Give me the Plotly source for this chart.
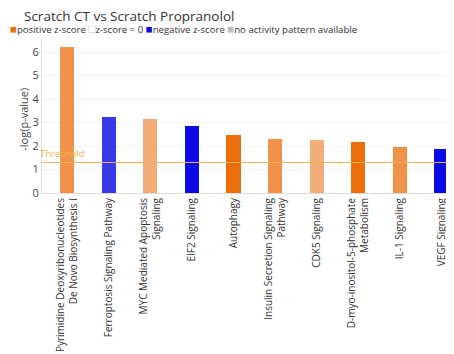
import plotly.graph_objects as go

# pathways and their -log(p-value)
pathways = [
    "Pyrimidine Deoxyribonucleotides<br>De Novo Biosynthesis I",
    "Ferroptosis Signaling Pathway",
    "MYC Mediated Apoptosis<br>Signaling",
    "EIF2 Signaling",
    "Autophagy",
    "Insulin Secretion Signaling<br>Pathway",
    "CDK5 Signaling",
    "D-myo-inositol-5-phosphate<br>Metabolism",
    "IL-1 Signaling",
    "VEGF Signaling",
]
neg_log_p = [6.22, 3.23, 3.17, 2.86, 2.48, 2.29, 2.26, 2.17, 1.94, 1.88]
# shade of the z-score for each bar
z_shade = ["pos_mid", "neg_light", "pos_light", "neg", "pos_dark",
           "pos_mid", "pos_light", "pos_dark", "pos_mid", "neg"]
threshold = 1.3

SHADES = {
    "pos_dark": "#EC6E0C",
    "pos_mid": "#F0924A",
    "pos_light": "#F3AD78",
    "neg": "#0A0AE6",
    "neg_light": "#3838E8",
}
FONT = "Open Sans, Arial, sans-serif"
TEXT = "#333333"

fig = go.Figure()
fig.add_trace(go.Bar(
    x=list(range(len(pathways))),
    y=neg_log_p,
    width=0.34,
    marker=dict(color=[SHADES[s] for s in z_shade], line=dict(width=0)),
    hovertemplate="%{y:.2f}<extra></extra>",
))

# threshold line
fig.add_shape(type="line", xref="paper", x0=0, x1=1, yref="y", y0=threshold, y1=threshold,
              line=dict(color="#E9B35C", width=1))

SQ = "font-size:11.5px"
legend_text = (f"<span style='color:#EC6E0C;{SQ}'>■</span>positive z-score "
               f"<span style='color:#C8C8C8;{SQ}'>□</span>z-score = 0 "
               f"<span style='color:#0A0AE6;{SQ}'>■</span>negative z-score "
               f"<span style='color:#BDBDBD;{SQ}'>■</span>no activity pattern available")

# page body has an 8px margin, so the figure is 8px smaller than the window
fig.update_layout(
    width=446, height=346,
    margin=dict(l=34, r=0, t=30, b=161),
    paper_bgcolor="white", plot_bgcolor="white",
    font=dict(family=FONT, color=TEXT, size=10),
    showlegend=False,
    bargap=0,
    xaxis=dict(
        range=[-0.6, 9.3],
        tickmode="array",
        tickvals=list(range(len(pathways))),
        ticktext=pathways,
        tickangle=-90,
        tickfont=dict(size=10, color=TEXT),
        showgrid=False, zeroline=False,
        showline=True, linecolor="#DDDDDD", linewidth=1,
        ticks="",
        automargin=False,
        fixedrange=True,
    ),
    yaxis=dict(
        range=[0, 6.6],
        dtick=1,
        tickfont=dict(size=11, color="#444444"),
        showgrid=True, gridcolor="#F3F3F3",
        zeroline=False,
        showline=True, linecolor="#DDDDDD", linewidth=1,
        automargin=False,
    ),
    annotations=[
        dict(text="Scratch CT vs Scratch Propranolol", xref="paper", yref="paper",
             x=-0.048, y=1, xanchor="left", yanchor="bottom", yshift=11, showarrow=False,
             font=dict(size=13.5, color=TEXT)),
        dict(text=legend_text, xref="paper", yref="paper",
             x=-0.083, y=1, xanchor="left", yanchor="bottom", yshift=0, showarrow=False,
             font=dict(size=9.6, color=TEXT)),
        dict(text="-log(p-value)", xref="paper", yref="paper", x=-0.047, y=0.477,
             textangle=-90, xanchor="center", yanchor="middle", showarrow=False,
             font=dict(size=11, color="#444444")),
        dict(text="Threshold", xref="paper", yref="y", x=0.05, y=threshold,
             xanchor="center", yanchor="bottom", showarrow=False,
             font=dict(size=9.5, color="#F3B24A")),
    ],
)

fig.write_html("out.html")
